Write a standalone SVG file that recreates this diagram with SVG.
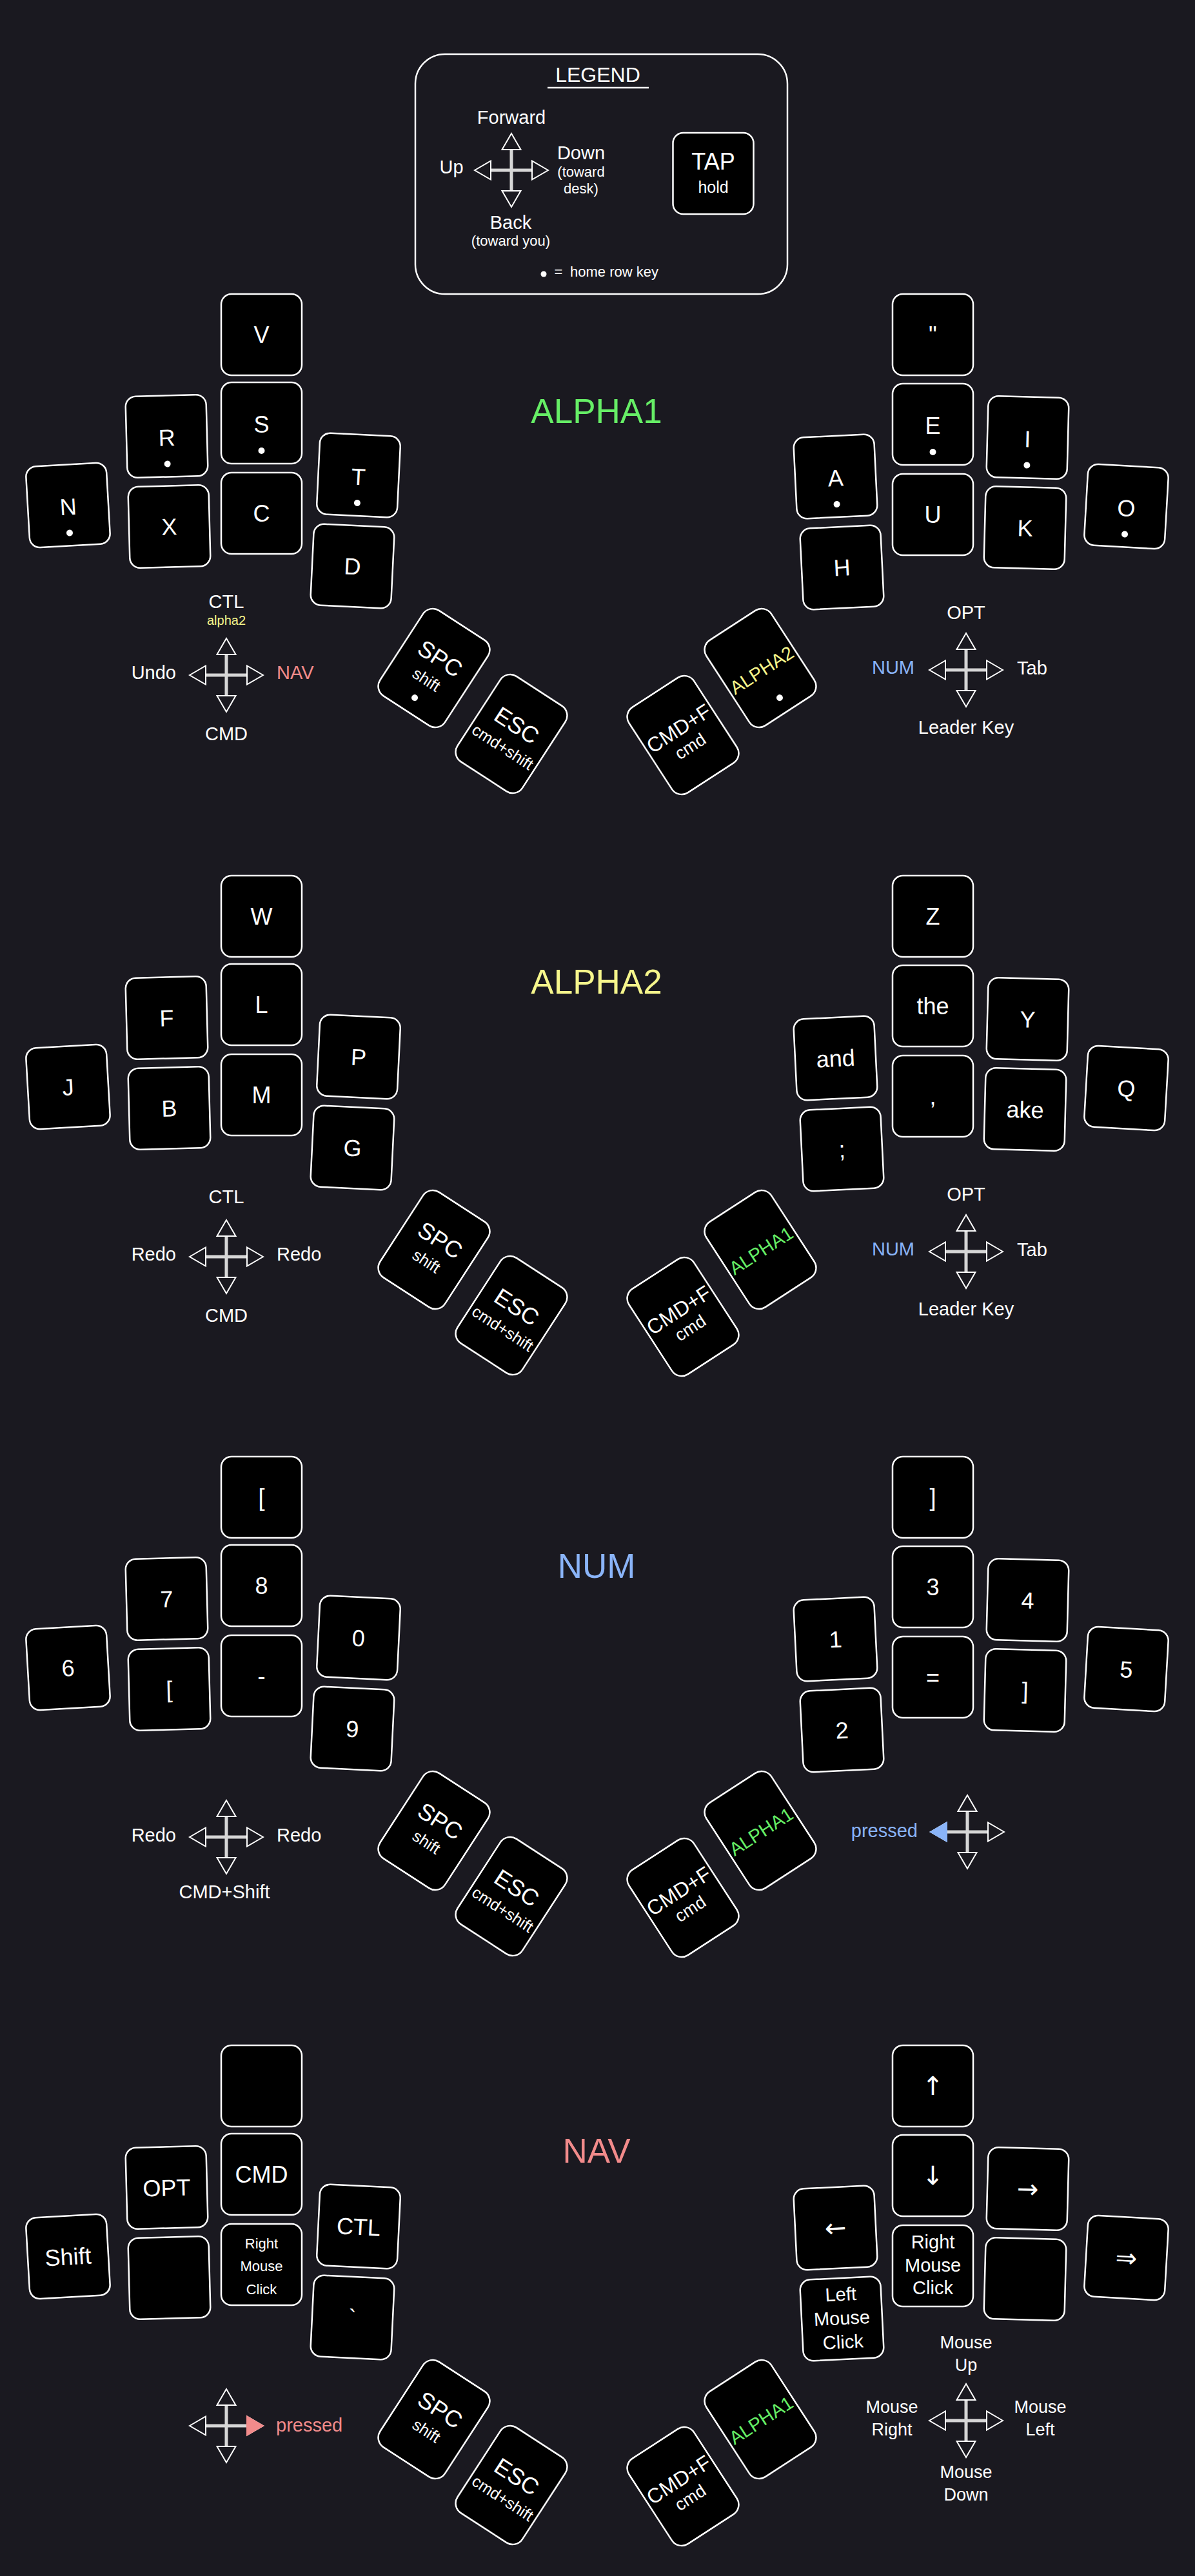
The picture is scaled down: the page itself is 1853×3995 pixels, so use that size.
<svg xmlns="http://www.w3.org/2000/svg" xmlns:xlink="http://www.w3.org/1999/xlink" width="1853" height="3995" viewBox="0 0 1853 3995">
<defs>
<style>
.k{fill:#000;stroke:#fff;stroke-width:2.5}
.t{font-family:"Liberation Sans",Arial,sans-serif;font-size:36px;fill:#fff;text-anchor:middle}
.ar{font-family:"DejaVu Sans",sans-serif;font-size:40px;fill:#fff;text-anchor:middle}
.s{font-family:"Liberation Sans",Arial,sans-serif;font-size:25px;fill:#fff;text-anchor:middle}
.m{font-family:"Liberation Sans",Arial,sans-serif;font-size:29px;fill:#fff;text-anchor:middle}
.sm{font-family:"Liberation Sans",Arial,sans-serif;font-size:22px;fill:#fff;text-anchor:middle}
.l{font-family:"Liberation Sans",Arial,sans-serif;font-size:29px;fill:#fff;text-anchor:middle}
.e{text-anchor:end}
.st{text-anchor:start}
.ti{font-family:"Liberation Sans",Arial,sans-serif;font-size:53px;text-anchor:middle}
.dot{fill:#fff}
.ah{fill:#1a1920;stroke:#fff;stroke-width:2}
.g{fill:#66ee66}.y{fill:#f6f68c}.b{fill:#8ab4f8}.p{fill:#f28b8b}
</style>
<g id="cross">
<path d="M-32 0H32M0 -31V31" stroke="#d6d6d6" stroke-width="5" fill="none"/>
<polygon class="ah" points="0,-57 14.5,-32 -14.5,-32"/>
<polygon class="ah" points="0,57 14.5,32 -14.5,32"/>
<polygon class="ah" points="-57,0 -32,-14.5 -32,14.5"/>
<polygon class="ah" points="57,0 32,-14.5 32,14.5"/>
</g>
<rect id="key" class="k" x="-62.5" y="-63" width="125" height="126" rx="16"/>
<rect id="thumb" class="k" x="-60" y="-79" width="120" height="158" rx="18"/>
</defs>
<rect width="1853" height="3995" fill="#1a1920"/>

<!-- LEGEND -->
<g id="legend">
<rect x="644" y="84" width="577" height="372" rx="46" fill="none" stroke="#fff" stroke-width="2.5"/>
<text class="l" x="927" y="127" style="font-size:32px">LEGEND</text>
<line x1="849" y1="136" x2="1006" y2="136" stroke="#fff" stroke-width="2.5"/>
<use xlink:href="#cross" x="793" y="264"/>
<text class="l" x="793" y="192">Forward</text>
<text class="l" x="700" y="269">Up</text>
<text class="l" x="901" y="247">Down</text>
<text class="sm" x="901" y="274">(toward</text>
<text class="sm" x="901" y="300">desk)</text>
<text class="l" x="792" y="355">Back</text>
<text class="sm" x="792" y="381">(toward you)</text>
<g id="legend-key" transform="translate(1106 269)">
<use xlink:href="#key"/>
<text class="t" y="-6">TAP</text>
<text class="s" y="30">hold</text>
</g>
<circle class="dot" cx="843" cy="425" r="4.5"/>
<text class="sm" x="866" y="429">=</text>
<text class="sm st" x="884" y="429">home row key</text>
</g>

<!-- ============ ALPHA1 ============ -->
<text class="ti g" x="925" y="656">ALPHA1</text>
<g id="a1-left">
<g id="a1-V" transform="translate(405.5 519)"><use xlink:href="#key"/><text class="t" y="13">V</text></g>
<g id="a1-S" transform="translate(405.5 656)"><use xlink:href="#key"/><text class="t" y="15">S</text><circle class="dot" cy="43" r="5"/></g>
<g id="a1-C" transform="translate(405.5 796)"><use xlink:href="#key"/><text class="t" y="13">C</text></g>
<g id="a1-R" transform="translate(258.5 676.5) rotate(-1.5)"><use xlink:href="#key"/><text class="t" y="15">R</text><circle class="dot" cy="43" r="5"/></g>
<g id="a1-X" transform="translate(262.5 816.5) rotate(-1.5)"><use xlink:href="#key"/><text class="t" y="13">X</text></g>
<g id="a1-N" transform="translate(105.5 783.5) rotate(-3.3)"><use xlink:href="#key"/><text class="t" y="15">N</text><circle class="dot" cy="43" r="5"/></g>
<g id="a1-T" transform="translate(556 737) rotate(2.8)"><use xlink:href="#key"/><text class="t" y="15">T</text><circle class="dot" cy="43" r="5"/></g>
<g id="a1-D" transform="translate(546.5 878) rotate(2.8)"><use xlink:href="#key"/><text class="t" y="13">D</text></g>
<g id="a1-SPC" transform="translate(673 1036) rotate(33)"><use xlink:href="#thumb"/><text class="t" y="-5">SPC</text><text class="s" y="30">shift</text><circle class="dot" cy="55" r="5"/></g>
<g id="a1-ESC" transform="translate(793 1138) rotate(33)"><use xlink:href="#thumb"/><text class="t" y="-3">ESC</text><text class="s" y="33">cmd+shift</text></g>
</g>
<g id="a1-right">
<g id="a1-quote" transform="translate(1446.5 519)"><use xlink:href="#key"/><text class="t" y="13">"</text></g>
<g id="a1-E" transform="translate(1446.5 658)"><use xlink:href="#key"/><text class="t" y="15">E</text><circle class="dot" cy="43" r="5"/></g>
<g id="a1-U" transform="translate(1446.5 798)"><use xlink:href="#key"/><text class="t" y="13">U</text></g>
<g id="a1-I" transform="translate(1593.5 678.5) rotate(1.5)"><use xlink:href="#key"/><text class="t" y="15">I</text><circle class="dot" cy="43" r="5"/></g>
<g id="a1-K" transform="translate(1589.5 818.5) rotate(1.5)"><use xlink:href="#key"/><text class="t" y="13">K</text></g>
<g id="a1-O" transform="translate(1746.5 785.5) rotate(3.3)"><use xlink:href="#key"/><text class="t" y="15">O</text><circle class="dot" cy="43" r="5"/></g>
<g id="a1-A" transform="translate(1295.5 739) rotate(-2.8)"><use xlink:href="#key"/><text class="t" y="15">A</text><circle class="dot" cy="43" r="5"/></g>
<g id="a1-H" transform="translate(1305.5 880) rotate(-2.8)"><use xlink:href="#key"/><text class="t" y="13">H</text></g>
<g id="a1-ALPHA2" transform="translate(1179 1036) rotate(-33)"><use xlink:href="#thumb"/><text class="t y" y="14" style="font-size:29px">ALPHA2</text><circle class="dot" cy="55" r="5"/></g>
<g id="a1-CMDF" transform="translate(1059 1140) rotate(-33)"><use xlink:href="#thumb"/><text class="t" y="-1" style="font-size:32px">CMD+F</text><text class="s" y="30" style="font-size:27px">cmd</text></g>
</g>
<g id="a1-combos">
<use xlink:href="#cross" x="351" y="1047"/>
<text class="l" x="351" y="943">CTL</text>
<text class="sm y" x="351" y="969" style="font-size:20px">alpha2</text>
<text class="l e" x="273" y="1053">Undo</text>
<text class="l st p" x="429" y="1053">NAV</text>
<text class="l" x="351" y="1148">CMD</text>
<use xlink:href="#cross" x="1498" y="1039"/>
<text class="l" x="1498" y="960">OPT</text>
<text class="l e b" x="1418" y="1045">NUM</text>
<text class="l st" x="1577" y="1046">Tab</text>
<text class="l" x="1498" y="1138">Leader Key</text>
</g>

<!-- ============ ALPHA2 ============ -->
<text class="ti y" x="925" y="1541">ALPHA2</text>
<g id="a2-left">
<g id="a2-W" transform="translate(405.5 1421)"><use xlink:href="#key"/><text class="t" y="13">W</text></g>
<g id="a2-L" transform="translate(405.5 1558)"><use xlink:href="#key"/><text class="t" y="13">L</text></g>
<g id="a2-M" transform="translate(405.5 1698)"><use xlink:href="#key"/><text class="t" y="13">M</text></g>
<g id="a2-F" transform="translate(258.5 1578.5) rotate(-1.5)"><use xlink:href="#key"/><text class="t" y="13">F</text></g>
<g id="a2-B" transform="translate(262.5 1718.5) rotate(-1.5)"><use xlink:href="#key"/><text class="t" y="13">B</text></g>
<g id="a2-J" transform="translate(105.5 1685.5) rotate(-3.3)"><use xlink:href="#key"/><text class="t" y="13">J</text></g>
<g id="a2-P" transform="translate(556 1639) rotate(2.8)"><use xlink:href="#key"/><text class="t" y="13">P</text></g>
<g id="a2-G" transform="translate(546.5 1780) rotate(2.8)"><use xlink:href="#key"/><text class="t" y="13">G</text></g>
<g id="a2-SPC" transform="translate(673 1938) rotate(33)"><use xlink:href="#thumb"/><text class="t" y="-5">SPC</text><text class="s" y="30">shift</text></g>
<g id="a2-ESC" transform="translate(793 2040) rotate(33)"><use xlink:href="#thumb"/><text class="t" y="-3">ESC</text><text class="s" y="33">cmd+shift</text></g>
</g>
<g id="a2-right">
<g id="a2-Z" transform="translate(1446.5 1421)"><use xlink:href="#key"/><text class="t" y="13">Z</text></g>
<g id="a2-the" transform="translate(1446.5 1560)"><use xlink:href="#key"/><text class="t" y="13">the</text></g>
<g id="a2-comma" transform="translate(1446.5 1700)"><use xlink:href="#key"/><text class="t" y="13">,</text></g>
<g id="a2-Y" transform="translate(1593.5 1580.5) rotate(1.5)"><use xlink:href="#key"/><text class="t" y="13">Y</text></g>
<g id="a2-ake" transform="translate(1589.5 1720.5) rotate(1.5)"><use xlink:href="#key"/><text class="t" y="13">ake</text></g>
<g id="a2-Q" transform="translate(1746.5 1687.5) rotate(3.3)"><use xlink:href="#key"/><text class="t" y="13">Q</text></g>
<g id="a2-and" transform="translate(1295.5 1641) rotate(-2.8)"><use xlink:href="#key"/><text class="t" y="13">and</text></g>
<g id="a2-semi" transform="translate(1305.5 1782) rotate(-2.8)"><use xlink:href="#key"/><text class="t" y="13">;</text></g>
<g id="a2-ALPHA1" transform="translate(1179 1938) rotate(-33)"><use xlink:href="#thumb"/><text class="t g" y="12" style="font-size:29px">ALPHA1</text></g>
<g id="a2-CMDF" transform="translate(1059 2042) rotate(-33)"><use xlink:href="#thumb"/><text class="t" y="-1" style="font-size:32px">CMD+F</text><text class="s" y="30" style="font-size:27px">cmd</text></g>
</g>
<g id="a2-combos">
<use xlink:href="#cross" x="351" y="1949"/>
<text class="l" x="351" y="1866">CTL</text>
<text class="l e" x="273" y="1955">Redo</text>
<text class="l st" x="429" y="1955">Redo</text>
<text class="l" x="351" y="2050">CMD</text>
<use xlink:href="#cross" x="1498" y="1941"/>
<text class="l" x="1498" y="1862">OPT</text>
<text class="l e b" x="1418" y="1947">NUM</text>
<text class="l st" x="1577" y="1948">Tab</text>
<text class="l" x="1498" y="2040">Leader Key</text>
</g>

<!-- ============ NUM ============ -->
<text class="ti b" x="925" y="2447">NUM</text>
<g id="num-left">
<g id="num-lbr1" transform="translate(405.5 2322)"><use xlink:href="#key"/><text class="t" y="13">[</text></g>
<g id="num-8" transform="translate(405.5 2459)"><use xlink:href="#key"/><text class="t" y="13">8</text></g>
<g id="num-minus" transform="translate(405.5 2599)"><use xlink:href="#key"/><text class="t" y="13">-</text></g>
<g id="num-7" transform="translate(258.5 2479.5) rotate(-1.5)"><use xlink:href="#key"/><text class="t" y="13">7</text></g>
<g id="num-lbr2" transform="translate(262.5 2619.5) rotate(-1.5)"><use xlink:href="#key"/><text class="t" y="13">[</text></g>
<g id="num-6" transform="translate(105.5 2586.5) rotate(-3.3)"><use xlink:href="#key"/><text class="t" y="13">6</text></g>
<g id="num-0" transform="translate(556 2540) rotate(2.8)"><use xlink:href="#key"/><text class="t" y="13">0</text></g>
<g id="num-9" transform="translate(546.5 2681) rotate(2.8)"><use xlink:href="#key"/><text class="t" y="13">9</text></g>
<g id="num-SPC" transform="translate(673 2839) rotate(33)"><use xlink:href="#thumb"/><text class="t" y="-5">SPC</text><text class="s" y="30">shift</text></g>
<g id="num-ESC" transform="translate(793 2941) rotate(33)"><use xlink:href="#thumb"/><text class="t" y="-3">ESC</text><text class="s" y="33">cmd+shift</text></g>
</g>
<g id="num-right">
<g id="num-rbr1" transform="translate(1446.5 2322)"><use xlink:href="#key"/><text class="t" y="13">]</text></g>
<g id="num-3" transform="translate(1446.5 2461)"><use xlink:href="#key"/><text class="t" y="13">3</text></g>
<g id="num-eq" transform="translate(1446.5 2601)"><use xlink:href="#key"/><text class="t" y="13">=</text></g>
<g id="num-4" transform="translate(1593.5 2481.5) rotate(1.5)"><use xlink:href="#key"/><text class="t" y="13">4</text></g>
<g id="num-rbr2" transform="translate(1589.5 2621.5) rotate(1.5)"><use xlink:href="#key"/><text class="t" y="13">]</text></g>
<g id="num-5" transform="translate(1746.5 2588.5) rotate(3.3)"><use xlink:href="#key"/><text class="t" y="13">5</text></g>
<g id="num-1" transform="translate(1295.5 2542) rotate(-2.8)"><use xlink:href="#key"/><text class="t" y="13">1</text></g>
<g id="num-2" transform="translate(1305.5 2683) rotate(-2.8)"><use xlink:href="#key"/><text class="t" y="13">2</text></g>
<g id="num-ALPHA1" transform="translate(1179 2839) rotate(-33)"><use xlink:href="#thumb"/><text class="t g" y="12" style="font-size:29px">ALPHA1</text></g>
<g id="num-CMDF" transform="translate(1059 2943) rotate(-33)"><use xlink:href="#thumb"/><text class="t" y="-1" style="font-size:32px">CMD+F</text><text class="s" y="30" style="font-size:27px">cmd</text></g>
</g>
<g id="num-combos">
<use xlink:href="#cross" x="351" y="2849"/>
<text class="l e" x="273" y="2856">Redo</text>
<text class="l st" x="429" y="2856">Redo</text>
<text class="l" x="348" y="2944">CMD+Shift</text>
<use xlink:href="#cross" x="1500" y="2841"/>
<polygon points="1443,2841 1468,2826.5 1468,2855.5" fill="#8ab4f8" stroke="#8ab4f8" stroke-width="2"/>
<text class="l e b" x="1423" y="2849">pressed</text>
</g>

<!-- ============ NAV ============ -->
<text class="ti p" x="925" y="3354">NAV</text>
<g id="nav-left">
<g id="nav-blank1" transform="translate(405.5 3235)"><use xlink:href="#key"/></g>
<g id="nav-CMD" transform="translate(405.5 3372)"><use xlink:href="#key"/><text class="t" y="13">CMD</text></g>
<g id="nav-RMC-l" transform="translate(405.5 3512)"><use xlink:href="#key"/><text class="sm" y="-25">Right</text><text class="sm" y="10">Mouse</text><text class="sm" y="46">Click</text></g>
<g id="nav-OPT" transform="translate(258.5 3392.5) rotate(-1.5)"><use xlink:href="#key"/><text class="t" y="13">OPT</text></g>
<g id="nav-blank2" transform="translate(262.5 3532.5) rotate(-1.5)"><use xlink:href="#key"/></g>
<g id="nav-Shift" transform="translate(105.5 3499.5) rotate(-3.3)"><use xlink:href="#key"/><text class="t" y="13">Shift</text></g>
<g id="nav-CTL" transform="translate(556 3453) rotate(2.8)"><use xlink:href="#key"/><text class="t" y="13">CTL</text></g>
<g id="nav-grave" transform="translate(546.5 3594) rotate(2.8)"><use xlink:href="#key"/><text class="t" y="13">`</text></g>
<g id="nav-SPC" transform="translate(673 3752) rotate(33)"><use xlink:href="#thumb"/><text class="t" y="-5">SPC</text><text class="s" y="30">shift</text></g>
<g id="nav-ESC" transform="translate(793 3854) rotate(33)"><use xlink:href="#thumb"/><text class="t" y="-3">ESC</text><text class="s" y="33">cmd+shift</text></g>
</g>
<g id="nav-right">
<g id="nav-up" transform="translate(1446.5 3235)"><use xlink:href="#key"/><text class="ar" y="14">↑</text></g>
<g id="nav-down" transform="translate(1446.5 3374)"><use xlink:href="#key"/><text class="ar" y="14">↓</text></g>
<g id="nav-RMC-r" transform="translate(1446.5 3514)"><use xlink:href="#key"/><text class="m" y="-27">Right</text><text class="m" y="9">Mouse</text><text class="m" y="44">Click</text></g>
<g id="nav-rightarrow" transform="translate(1593.5 3394.5) rotate(1.5)"><use xlink:href="#key"/><text class="ar" y="14">→</text></g>
<g id="nav-blank3" transform="translate(1589.5 3534.5) rotate(1.5)"><use xlink:href="#key"/></g>
<g id="nav-dblarrow" transform="translate(1746.5 3501.5) rotate(3.3)"><use xlink:href="#key"/><text class="ar" y="14">⇒</text></g>
<g id="nav-leftarrow" transform="translate(1295.5 3455) rotate(-2.8)"><use xlink:href="#key"/><text class="ar" y="14">←</text></g>
<g id="nav-LMC" transform="translate(1305.5 3596) rotate(-2.8)"><use xlink:href="#key"/><text class="m" y="-28">Left</text><text class="m" y="9">Mouse</text><text class="m" y="46">Click</text></g>
<g id="nav-ALPHA1" transform="translate(1179 3752) rotate(-33)"><use xlink:href="#thumb"/><text class="t g" y="12" style="font-size:29px">ALPHA1</text></g>
<g id="nav-CMDF" transform="translate(1059 3856) rotate(-33)"><use xlink:href="#thumb"/><text class="t" y="-1" style="font-size:32px">CMD+F</text><text class="s" y="30" style="font-size:27px">cmd</text></g>
</g>
<g id="nav-combos">
<use xlink:href="#cross" x="351" y="3762"/>
<polygon points="408,3762 383,3747.5 383,3776.5" fill="#f28b8b" stroke="#f28b8b" stroke-width="2"/>
<text class="l st p" x="428" y="3771">pressed</text>
<use xlink:href="#cross" x="1498" y="3754"/>
<text class="l" x="1498" y="3642" style="font-size:27px">Mouse</text>
<text class="l" x="1498" y="3677" style="font-size:27px">Up</text>
<text class="l" x="1383" y="3742" style="font-size:27px">Mouse</text>
<text class="l" x="1383" y="3777" style="font-size:27px">Right</text>
<text class="l" x="1613" y="3742" style="font-size:27px">Mouse</text>
<text class="l" x="1613" y="3777" style="font-size:27px">Left</text>
<text class="l" x="1498" y="3843" style="font-size:27px">Mouse</text>
<text class="l" x="1498" y="3878" style="font-size:27px">Down</text>
</g>
</svg>
